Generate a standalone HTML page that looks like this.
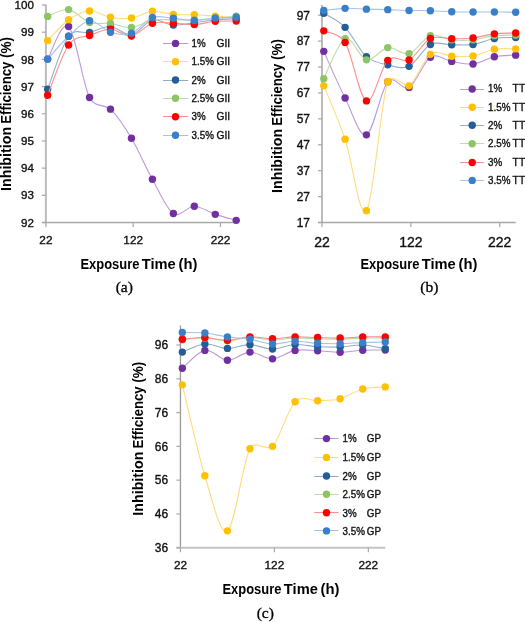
<!DOCTYPE html>
<html><head><meta charset="utf-8"><style>
html,body{margin:0;padding:0;background:#fff;}
body{width:525px;height:622px;overflow:hidden;}
svg{display:block;will-change:transform;}
text{font-family:"Liberation Sans",sans-serif;fill:#000;}
.tk{fill:#111;stroke:#111;stroke-width:0.35px;}
.lg{font-size:10px;fill:#111;stroke:#111;stroke-width:0.35px;}
.ttl{font-size:14px;font-weight:bold;}
.cap{font-family:"Liberation Serif",serif;font-size:15.6px;stroke:#000;stroke-width:0.3px;}
</style></head><body>
<svg width="525" height="622" viewBox="0 0 525 622">
<rect width="525" height="622" fill="#fff"/>
<rect x="44.90" y="4.50" width="2.00" height="218.02" fill="#bcbcbc"/>
<rect x="41.90" y="221.77" width="194.31" height="1.50" fill="#a8a8a8"/>
<rect x="41.90" y="4.40" width="4" height="1.2" fill="#a8a8a8"/>
<text x="33.90" y="9.15" class="tk" style="font-size:11.6px" text-anchor="end">100</text>
<rect x="41.90" y="31.59" width="4" height="1.2" fill="#a8a8a8"/>
<text x="33.90" y="36.34" class="tk" style="font-size:11.6px" text-anchor="end">99</text>
<rect x="41.90" y="58.78" width="4" height="1.2" fill="#a8a8a8"/>
<text x="33.90" y="63.53" class="tk" style="font-size:11.6px" text-anchor="end">98</text>
<rect x="41.90" y="85.97" width="4" height="1.2" fill="#a8a8a8"/>
<text x="33.90" y="90.72" class="tk" style="font-size:11.6px" text-anchor="end">97</text>
<rect x="41.90" y="113.16" width="4" height="1.2" fill="#a8a8a8"/>
<text x="33.90" y="117.91" class="tk" style="font-size:11.6px" text-anchor="end">96</text>
<rect x="41.90" y="140.35" width="4" height="1.2" fill="#a8a8a8"/>
<text x="33.90" y="145.10" class="tk" style="font-size:11.6px" text-anchor="end">95</text>
<rect x="41.90" y="167.54" width="4" height="1.2" fill="#a8a8a8"/>
<text x="33.90" y="172.29" class="tk" style="font-size:11.6px" text-anchor="end">94</text>
<rect x="41.90" y="194.73" width="4" height="1.2" fill="#a8a8a8"/>
<text x="33.90" y="199.48" class="tk" style="font-size:11.6px" text-anchor="end">93</text>
<rect x="41.90" y="221.92" width="4" height="1.2" fill="#a8a8a8"/>
<text x="33.90" y="226.67" class="tk" style="font-size:11.6px" text-anchor="end">92</text>
<rect x="45.30" y="222.52" width="1.2" height="4.5" fill="#a8a8a8"/>
<text x="45.90" y="244.00" class="tk" style="font-size:11.8px" text-anchor="middle">22</text>
<rect x="132.60" y="222.52" width="1.2" height="4.5" fill="#a8a8a8"/>
<text x="133.20" y="244.00" class="tk" style="font-size:11.8px" text-anchor="middle">122</text>
<rect x="219.90" y="222.52" width="1.2" height="4.5" fill="#a8a8a8"/>
<text x="220.50" y="244.00" class="tk" style="font-size:11.8px" text-anchor="middle">222</text>
<path d="M47.65,59.11 C51.14,53.67 61.61,20.09 68.60,26.48 C75.58,32.87 82.57,83.67 89.55,97.45 C94.97,108.15 105.08,103.86 110.50,109.14 C117.49,115.94 124.47,126.54 131.45,138.23 C138.44,149.92 145.42,166.74 152.41,179.29 C159.39,191.84 166.37,209.06 173.36,213.55 C180.34,218.03 187.33,206.07 194.31,206.21 C201.29,206.34 208.28,212.01 215.26,214.36 C222.25,216.72 232.72,219.35 236.21,220.34" fill="none" stroke="#BC9ADA" stroke-width="1.1"/>
<circle cx="47.65" cy="59.11" r="3.70" fill="#7030A0"/>
<circle cx="68.60" cy="26.48" r="3.70" fill="#7030A0"/>
<circle cx="89.55" cy="97.45" r="3.70" fill="#7030A0"/>
<circle cx="110.50" cy="109.14" r="3.70" fill="#7030A0"/>
<circle cx="131.45" cy="138.23" r="3.70" fill="#7030A0"/>
<circle cx="152.41" cy="179.29" r="3.70" fill="#7030A0"/>
<circle cx="173.36" cy="213.55" r="3.70" fill="#7030A0"/>
<circle cx="194.31" cy="206.21" r="3.70" fill="#7030A0"/>
<circle cx="215.26" cy="214.36" r="3.70" fill="#7030A0"/>
<circle cx="236.21" cy="220.34" r="3.70" fill="#7030A0"/>
<path d="M47.65,40.62 C51.14,37.13 61.61,24.62 68.60,19.68 C75.58,14.74 82.57,11.39 89.55,10.98 C96.53,10.57 103.52,16.06 110.50,17.24 C117.49,18.41 124.47,19.05 131.45,18.05 C138.44,17.05 145.42,11.84 152.41,11.25 C159.39,10.66 166.37,13.93 173.36,14.52 C180.34,15.11 187.33,14.52 194.31,14.79 C201.29,15.06 208.28,15.74 215.26,16.15 C222.25,16.56 232.72,17.05 236.21,17.24" fill="none" stroke="#FFDC80" stroke-width="1.1"/>
<circle cx="47.65" cy="40.62" r="3.70" fill="#FFC000"/>
<circle cx="68.60" cy="19.68" r="3.70" fill="#FFC000"/>
<circle cx="89.55" cy="10.98" r="3.70" fill="#FFC000"/>
<circle cx="110.50" cy="17.24" r="3.70" fill="#FFC000"/>
<circle cx="131.45" cy="18.05" r="3.70" fill="#FFC000"/>
<circle cx="152.41" cy="11.25" r="3.70" fill="#FFC000"/>
<circle cx="173.36" cy="14.52" r="3.70" fill="#FFC000"/>
<circle cx="194.31" cy="14.79" r="3.70" fill="#FFC000"/>
<circle cx="215.26" cy="16.15" r="3.70" fill="#FFC000"/>
<circle cx="236.21" cy="17.24" r="3.70" fill="#FFC000"/>
<path d="M47.65,89.29 C51.14,80.45 61.61,45.74 68.60,36.27 C74.92,27.70 83.23,33.94 89.55,32.46 C96.53,30.83 103.52,26.07 110.50,26.48 C117.49,26.89 124.47,36.00 131.45,34.91 C138.44,33.82 145.42,21.59 152.41,19.95 C159.39,18.32 166.37,24.67 173.36,25.12 C180.34,25.57 187.33,23.53 194.31,22.67 C201.29,21.81 208.28,20.63 215.26,19.95 C222.25,19.27 232.72,18.82 236.21,18.59" fill="none" stroke="#90AECC" stroke-width="1.1"/>
<circle cx="47.65" cy="89.29" r="3.70" fill="#245E94"/>
<circle cx="68.60" cy="36.27" r="3.70" fill="#245E94"/>
<circle cx="89.55" cy="32.46" r="3.70" fill="#245E94"/>
<circle cx="110.50" cy="26.48" r="3.70" fill="#245E94"/>
<circle cx="131.45" cy="34.91" r="3.70" fill="#245E94"/>
<circle cx="152.41" cy="19.95" r="3.70" fill="#245E94"/>
<circle cx="173.36" cy="25.12" r="3.70" fill="#245E94"/>
<circle cx="194.31" cy="22.67" r="3.70" fill="#245E94"/>
<circle cx="215.26" cy="19.95" r="3.70" fill="#245E94"/>
<circle cx="236.21" cy="18.59" r="3.70" fill="#245E94"/>
<path d="M47.65,16.42 C51.14,15.29 61.61,8.63 68.60,9.62 C75.58,10.62 82.57,20.09 89.55,22.40 C96.53,24.71 103.52,22.63 110.50,23.49 C117.49,24.35 124.47,28.16 131.45,27.57 C138.44,26.98 145.42,21.22 152.41,19.95 C159.39,18.69 166.37,19.95 173.36,19.95 C180.34,19.95 187.33,20.18 194.31,19.95 C201.29,19.73 208.28,19.23 215.26,18.59 C222.25,17.96 232.72,16.56 236.21,16.15" fill="none" stroke="#BCDEA6" stroke-width="1.1"/>
<circle cx="47.65" cy="16.42" r="3.70" fill="#8CC466"/>
<circle cx="68.60" cy="9.62" r="3.70" fill="#8CC466"/>
<circle cx="89.55" cy="22.40" r="3.70" fill="#8CC466"/>
<circle cx="110.50" cy="23.49" r="3.70" fill="#8CC466"/>
<circle cx="131.45" cy="27.57" r="3.70" fill="#8CC466"/>
<circle cx="152.41" cy="19.95" r="3.70" fill="#8CC466"/>
<circle cx="173.36" cy="19.95" r="3.70" fill="#8CC466"/>
<circle cx="194.31" cy="19.95" r="3.70" fill="#8CC466"/>
<circle cx="215.26" cy="18.59" r="3.70" fill="#8CC466"/>
<circle cx="236.21" cy="16.15" r="3.70" fill="#8CC466"/>
<path d="M47.65,95.27 C51.14,86.89 61.61,54.94 68.60,44.97 C75.20,35.55 82.95,37.94 89.55,35.45 C96.53,32.82 103.52,29.11 110.50,29.20 C117.49,29.29 124.47,36.99 131.45,36.00 C138.44,35.00 145.42,25.35 152.41,23.22 C159.39,21.09 166.37,22.99 173.36,23.22 C180.34,23.44 187.33,24.89 194.31,24.58 C201.29,24.26 208.28,21.90 215.26,21.31 C222.25,20.72 232.72,21.09 236.21,21.04" fill="none" stroke="#FF8C8C" stroke-width="1.1"/>
<circle cx="47.65" cy="95.27" r="3.70" fill="#FF0000"/>
<circle cx="68.60" cy="44.97" r="3.70" fill="#FF0000"/>
<circle cx="89.55" cy="35.45" r="3.70" fill="#FF0000"/>
<circle cx="110.50" cy="29.20" r="3.70" fill="#FF0000"/>
<circle cx="131.45" cy="36.00" r="3.70" fill="#FF0000"/>
<circle cx="152.41" cy="23.22" r="3.70" fill="#FF0000"/>
<circle cx="173.36" cy="23.22" r="3.70" fill="#FF0000"/>
<circle cx="194.31" cy="24.58" r="3.70" fill="#FF0000"/>
<circle cx="215.26" cy="21.31" r="3.70" fill="#FF0000"/>
<circle cx="236.21" cy="21.04" r="3.70" fill="#FF0000"/>
<path d="M47.65,59.11 C51.14,55.30 61.61,42.66 68.60,36.27 C75.58,29.88 82.57,21.45 89.55,20.77 C96.53,20.09 103.52,30.11 110.50,32.19 C117.49,34.27 124.47,35.72 131.45,33.28 C138.44,30.83 145.42,20.00 152.41,17.51 C159.39,15.01 166.37,17.82 173.36,18.32 C180.34,18.82 187.33,20.54 194.31,20.50 C201.29,20.45 208.28,18.60 215.26,18.05 C222.25,17.51 232.72,17.37 236.21,17.24" fill="none" stroke="#A2C4E8" stroke-width="1.1"/>
<circle cx="47.65" cy="59.11" r="3.70" fill="#3A80C8"/>
<circle cx="68.60" cy="36.27" r="3.70" fill="#3A80C8"/>
<circle cx="89.55" cy="20.77" r="3.70" fill="#3A80C8"/>
<circle cx="110.50" cy="32.19" r="3.70" fill="#3A80C8"/>
<circle cx="131.45" cy="33.28" r="3.70" fill="#3A80C8"/>
<circle cx="152.41" cy="17.51" r="3.70" fill="#3A80C8"/>
<circle cx="173.36" cy="18.32" r="3.70" fill="#3A80C8"/>
<circle cx="194.31" cy="20.50" r="3.70" fill="#3A80C8"/>
<circle cx="215.26" cy="18.05" r="3.70" fill="#3A80C8"/>
<circle cx="236.21" cy="17.24" r="3.70" fill="#3A80C8"/>
<line x1="163.00" y1="43.50" x2="188.20" y2="43.50" stroke="#BC9ADA" stroke-width="1.0"/>
<circle cx="175.50" cy="43.40" r="3.70" fill="#7030A0"/>
<text x="191.50" y="46.90" class="lg" textLength="14.1" lengthAdjust="spacingAndGlyphs">1%</text>
<text x="216.60" y="46.90" class="lg" textLength="13.6" lengthAdjust="spacingAndGlyphs">GII</text>
<line x1="163.00" y1="61.50" x2="188.20" y2="61.50" stroke="#FFDC80" stroke-width="1.0"/>
<circle cx="175.50" cy="61.75" r="3.70" fill="#FFC000"/>
<text x="191.50" y="65.25" class="lg" textLength="22.4" lengthAdjust="spacingAndGlyphs">1.5%</text>
<text x="216.60" y="65.25" class="lg" textLength="13.6" lengthAdjust="spacingAndGlyphs">GII</text>
<line x1="163.00" y1="80.50" x2="188.20" y2="80.50" stroke="#90AECC" stroke-width="1.0"/>
<circle cx="175.50" cy="80.00" r="3.70" fill="#245E94"/>
<text x="191.50" y="83.50" class="lg" textLength="14.1" lengthAdjust="spacingAndGlyphs">2%</text>
<text x="216.60" y="83.50" class="lg" textLength="13.6" lengthAdjust="spacingAndGlyphs">GII</text>
<line x1="163.00" y1="98.50" x2="188.20" y2="98.50" stroke="#BCDEA6" stroke-width="1.0"/>
<circle cx="175.50" cy="98.25" r="3.70" fill="#8CC466"/>
<text x="191.50" y="101.75" class="lg" textLength="22.4" lengthAdjust="spacingAndGlyphs">2.5%</text>
<text x="216.60" y="101.75" class="lg" textLength="13.6" lengthAdjust="spacingAndGlyphs">GII</text>
<line x1="163.00" y1="116.50" x2="188.20" y2="116.50" stroke="#FF8C8C" stroke-width="1.0"/>
<circle cx="175.50" cy="116.75" r="3.70" fill="#FF0000"/>
<text x="191.50" y="120.25" class="lg" textLength="14.1" lengthAdjust="spacingAndGlyphs">3%</text>
<text x="216.60" y="120.25" class="lg" textLength="13.6" lengthAdjust="spacingAndGlyphs">GII</text>
<line x1="163.00" y1="135.50" x2="188.20" y2="135.50" stroke="#A2C4E8" stroke-width="1.0"/>
<circle cx="175.50" cy="135.25" r="3.70" fill="#3A80C8"/>
<text x="191.50" y="138.75" class="lg" textLength="22.4" lengthAdjust="spacingAndGlyphs">3.5%</text>
<text x="216.60" y="138.75" class="lg" textLength="13.6" lengthAdjust="spacingAndGlyphs">GII</text>
<g class="ttl" transform="translate(10.90,190.00) rotate(-90)"><text x="-0.96" y="0" textLength="64.09" lengthAdjust="spacingAndGlyphs">Inhibition</text><text x="66.22" y="0" textLength="62.16" lengthAdjust="spacingAndGlyphs">Efficiency</text><text x="132.02" y="0" textLength="21.05" lengthAdjust="spacingAndGlyphs">(%)</text></g>
<g class="ttl" transform="translate(81.30,268.90)"><text x="-0.87" y="0" textLength="58.96" lengthAdjust="spacingAndGlyphs">Exposure</text><text x="60.53" y="0" textLength="33.96" lengthAdjust="spacingAndGlyphs">Time</text><text x="97.26" y="0" textLength="18.89" lengthAdjust="spacingAndGlyphs">(h)</text></g>
<text class="cap" text-anchor="middle" x="124.30" y="291.80">(a)</text>
<rect x="321.00" y="5.00" width="2.00" height="217.50" fill="#bcbcbc"/>
<rect x="318.00" y="221.75" width="197.69" height="1.50" fill="#a8a8a8"/>
<rect x="318.00" y="14.60" width="4" height="1.2" fill="#a8a8a8"/>
<text x="310.00" y="19.50" class="tk" style="font-size:12px" text-anchor="end">97</text>
<rect x="318.00" y="40.51" width="4" height="1.2" fill="#a8a8a8"/>
<text x="310.00" y="45.41" class="tk" style="font-size:12px" text-anchor="end">87</text>
<rect x="318.00" y="66.43" width="4" height="1.2" fill="#a8a8a8"/>
<text x="310.00" y="71.32" class="tk" style="font-size:12px" text-anchor="end">77</text>
<rect x="318.00" y="92.34" width="4" height="1.2" fill="#a8a8a8"/>
<text x="310.00" y="97.24" class="tk" style="font-size:12px" text-anchor="end">67</text>
<rect x="318.00" y="118.25" width="4" height="1.2" fill="#a8a8a8"/>
<text x="310.00" y="123.15" class="tk" style="font-size:12px" text-anchor="end">57</text>
<rect x="318.00" y="144.16" width="4" height="1.2" fill="#a8a8a8"/>
<text x="310.00" y="149.06" class="tk" style="font-size:12px" text-anchor="end">47</text>
<rect x="318.00" y="170.08" width="4" height="1.2" fill="#a8a8a8"/>
<text x="310.00" y="174.97" class="tk" style="font-size:12px" text-anchor="end">37</text>
<rect x="318.00" y="195.99" width="4" height="1.2" fill="#a8a8a8"/>
<text x="310.00" y="200.89" class="tk" style="font-size:12px" text-anchor="end">27</text>
<rect x="318.00" y="221.90" width="4" height="1.2" fill="#a8a8a8"/>
<text x="310.00" y="226.80" class="tk" style="font-size:12px" text-anchor="end">17</text>
<rect x="321.40" y="222.50" width="1.2" height="4.5" fill="#a8a8a8"/>
<text x="322.00" y="247.40" class="tk" style="font-size:14px" text-anchor="middle">22</text>
<rect x="410.25" y="222.50" width="1.2" height="4.5" fill="#a8a8a8"/>
<text x="410.85" y="247.40" class="tk" style="font-size:14px" text-anchor="middle">122</text>
<rect x="499.10" y="222.50" width="1.2" height="4.5" fill="#a8a8a8"/>
<text x="499.70" y="247.40" class="tk" style="font-size:14px" text-anchor="middle">222</text>
<path d="M323.78,51.35 C327.33,59.14 337.99,84.14 345.10,98.05 C352.21,111.96 359.32,137.55 366.43,134.84 C373.53,132.13 380.64,89.71 387.75,81.80 C394.86,73.89 401.96,91.49 409.07,87.39 C416.18,83.30 423.29,61.56 430.40,57.23 C437.50,52.90 444.61,60.26 451.72,61.39 C458.83,62.52 465.94,64.77 473.04,63.99 C480.15,63.21 487.26,58.18 494.37,56.71 C501.48,55.24 512.14,55.41 515.69,55.15" fill="none" stroke="#BC9ADA" stroke-width="1.1"/>
<circle cx="323.78" cy="51.35" r="3.70" fill="#7030A0"/>
<circle cx="345.10" cy="98.05" r="3.70" fill="#7030A0"/>
<circle cx="366.43" cy="134.84" r="3.70" fill="#7030A0"/>
<circle cx="387.75" cy="81.80" r="3.70" fill="#7030A0"/>
<circle cx="409.07" cy="87.39" r="3.70" fill="#7030A0"/>
<circle cx="430.40" cy="57.23" r="3.70" fill="#7030A0"/>
<circle cx="451.72" cy="61.39" r="3.70" fill="#7030A0"/>
<circle cx="473.04" cy="63.99" r="3.70" fill="#7030A0"/>
<circle cx="494.37" cy="56.71" r="3.70" fill="#7030A0"/>
<circle cx="515.69" cy="55.15" r="3.70" fill="#7030A0"/>
<path d="M323.78,85.83 C327.33,94.71 337.99,118.33 345.10,139.13 C352.21,159.93 359.32,220.21 366.43,210.63 C373.53,201.05 380.64,102.47 387.75,81.67 C391.26,71.39 405.56,88.08 409.07,85.83 C416.18,81.28 423.29,59.31 430.40,54.37 C437.50,49.43 444.61,55.93 451.72,56.19 C458.83,56.45 465.94,57.10 473.04,55.93 C480.15,54.76 487.26,50.34 494.37,49.17 C501.48,48.00 512.14,48.95 515.69,48.91" fill="none" stroke="#FFDC80" stroke-width="1.1"/>
<circle cx="323.78" cy="85.83" r="3.70" fill="#FFC000"/>
<circle cx="345.10" cy="139.13" r="3.70" fill="#FFC000"/>
<circle cx="366.43" cy="210.63" r="3.70" fill="#FFC000"/>
<circle cx="387.75" cy="81.67" r="3.70" fill="#FFC000"/>
<circle cx="409.07" cy="85.83" r="3.70" fill="#FFC000"/>
<circle cx="430.40" cy="54.37" r="3.70" fill="#FFC000"/>
<circle cx="451.72" cy="56.19" r="3.70" fill="#FFC000"/>
<circle cx="473.04" cy="55.93" r="3.70" fill="#FFC000"/>
<circle cx="494.37" cy="49.17" r="3.70" fill="#FFC000"/>
<circle cx="515.69" cy="48.91" r="3.70" fill="#FFC000"/>
<path d="M323.78,13.29 C327.33,15.63 337.99,20.09 345.10,27.33 C352.21,34.57 359.32,50.47 366.43,56.71 C373.53,62.95 380.64,63.17 387.75,64.77 C394.86,66.37 401.96,69.71 409.07,66.33 C416.18,62.95 423.29,48.09 430.40,44.49 C437.50,40.89 444.61,44.75 451.72,44.75 C458.83,44.75 465.94,45.53 473.04,44.49 C480.15,43.45 487.26,39.68 494.37,38.51 C501.48,37.34 512.14,37.64 515.69,37.47" fill="none" stroke="#90AECC" stroke-width="1.1"/>
<circle cx="323.78" cy="13.29" r="3.70" fill="#245E94"/>
<circle cx="345.10" cy="27.33" r="3.70" fill="#245E94"/>
<circle cx="366.43" cy="56.71" r="3.70" fill="#245E94"/>
<circle cx="387.75" cy="64.77" r="3.70" fill="#245E94"/>
<circle cx="409.07" cy="66.33" r="3.70" fill="#245E94"/>
<circle cx="430.40" cy="44.49" r="3.70" fill="#245E94"/>
<circle cx="451.72" cy="44.75" r="3.70" fill="#245E94"/>
<circle cx="473.04" cy="44.49" r="3.70" fill="#245E94"/>
<circle cx="494.37" cy="38.51" r="3.70" fill="#245E94"/>
<circle cx="515.69" cy="37.47" r="3.70" fill="#245E94"/>
<path d="M323.78,78.81 C327.33,72.11 337.99,41.80 345.10,38.64 C352.21,35.48 359.32,58.34 366.43,59.83 C373.53,61.32 380.64,48.65 387.75,47.61 C394.86,46.57 401.96,55.58 409.07,53.59 C416.18,51.60 423.29,37.95 430.40,35.65 C437.50,33.35 444.61,39.12 451.72,39.81 C458.83,40.50 465.94,40.50 473.04,39.81 C480.15,39.12 487.26,36.43 494.37,35.65 C501.48,34.87 512.14,35.22 515.69,35.13" fill="none" stroke="#BCDEA6" stroke-width="1.1"/>
<circle cx="323.78" cy="78.81" r="3.70" fill="#8CC466"/>
<circle cx="345.10" cy="38.64" r="3.70" fill="#8CC466"/>
<circle cx="366.43" cy="59.83" r="3.70" fill="#8CC466"/>
<circle cx="387.75" cy="47.61" r="3.70" fill="#8CC466"/>
<circle cx="409.07" cy="53.59" r="3.70" fill="#8CC466"/>
<circle cx="430.40" cy="35.65" r="3.70" fill="#8CC466"/>
<circle cx="451.72" cy="39.81" r="3.70" fill="#8CC466"/>
<circle cx="473.04" cy="39.81" r="3.70" fill="#8CC466"/>
<circle cx="494.37" cy="35.65" r="3.70" fill="#8CC466"/>
<circle cx="515.69" cy="35.13" r="3.70" fill="#8CC466"/>
<path d="M323.78,30.84 C326.93,32.55 338.79,32.05 345.10,42.41 C352.21,54.09 359.32,97.92 366.43,100.91 C373.53,103.90 380.64,67.17 387.75,60.35 C394.86,53.52 401.96,63.60 409.07,59.96 C416.18,56.32 423.29,42.04 430.40,38.51 C437.50,34.98 444.61,38.86 451.72,38.77 C458.83,38.68 465.94,38.81 473.04,37.99 C480.15,37.17 487.26,34.65 494.37,33.83 C501.48,33.01 512.14,33.18 515.69,33.05" fill="none" stroke="#FF8C8C" stroke-width="1.1"/>
<circle cx="323.78" cy="30.84" r="3.70" fill="#FF0000"/>
<circle cx="345.10" cy="42.41" r="3.70" fill="#FF0000"/>
<circle cx="366.43" cy="100.91" r="3.70" fill="#FF0000"/>
<circle cx="387.75" cy="60.35" r="3.70" fill="#FF0000"/>
<circle cx="409.07" cy="59.96" r="3.70" fill="#FF0000"/>
<circle cx="430.40" cy="38.51" r="3.70" fill="#FF0000"/>
<circle cx="451.72" cy="38.77" r="3.70" fill="#FF0000"/>
<circle cx="473.04" cy="37.99" r="3.70" fill="#FF0000"/>
<circle cx="494.37" cy="33.83" r="3.70" fill="#FF0000"/>
<circle cx="515.69" cy="33.05" r="3.70" fill="#FF0000"/>
<path d="M323.78,10.43 C327.33,10.08 337.99,8.57 345.10,8.35 C352.21,8.13 359.32,8.91 366.43,9.13 C373.53,9.35 380.64,9.43 387.75,9.65 C394.86,9.87 401.96,10.26 409.07,10.43 C416.18,10.60 423.29,10.47 430.40,10.69 C437.50,10.91 444.61,11.51 451.72,11.73 C458.83,11.95 465.94,11.95 473.04,11.99 C480.15,12.03 487.26,11.95 494.37,11.99 C501.48,12.03 512.14,12.21 515.69,12.25" fill="none" stroke="#A2C4E8" stroke-width="1.1"/>
<circle cx="323.78" cy="10.43" r="3.70" fill="#3A80C8"/>
<circle cx="345.10" cy="8.35" r="3.70" fill="#3A80C8"/>
<circle cx="366.43" cy="9.13" r="3.70" fill="#3A80C8"/>
<circle cx="387.75" cy="9.65" r="3.70" fill="#3A80C8"/>
<circle cx="409.07" cy="10.43" r="3.70" fill="#3A80C8"/>
<circle cx="430.40" cy="10.69" r="3.70" fill="#3A80C8"/>
<circle cx="451.72" cy="11.73" r="3.70" fill="#3A80C8"/>
<circle cx="473.04" cy="11.99" r="3.70" fill="#3A80C8"/>
<circle cx="494.37" cy="11.99" r="3.70" fill="#3A80C8"/>
<circle cx="515.69" cy="12.25" r="3.70" fill="#3A80C8"/>
<line x1="460.10" y1="89.50" x2="484.00" y2="89.50" stroke="#BC9ADA" stroke-width="1.0"/>
<circle cx="472.20" cy="89.00" r="3.70" fill="#7030A0"/>
<text x="488.00" y="92.30" class="lg" textLength="14.1" lengthAdjust="spacingAndGlyphs">1%</text>
<text x="512.60" y="92.30" class="lg" textLength="12.6" lengthAdjust="spacingAndGlyphs">TT</text>
<line x1="460.10" y1="107.50" x2="484.00" y2="107.50" stroke="#FFDC80" stroke-width="1.0"/>
<circle cx="472.20" cy="107.20" r="3.70" fill="#FFC000"/>
<text x="488.00" y="110.50" class="lg" textLength="22.4" lengthAdjust="spacingAndGlyphs">1.5%</text>
<text x="512.60" y="110.50" class="lg" textLength="12.6" lengthAdjust="spacingAndGlyphs">TT</text>
<line x1="460.10" y1="125.50" x2="484.00" y2="125.50" stroke="#90AECC" stroke-width="1.0"/>
<circle cx="472.20" cy="125.30" r="3.70" fill="#245E94"/>
<text x="488.00" y="128.60" class="lg" textLength="14.1" lengthAdjust="spacingAndGlyphs">2%</text>
<text x="512.60" y="128.60" class="lg" textLength="12.6" lengthAdjust="spacingAndGlyphs">TT</text>
<line x1="460.10" y1="143.50" x2="484.00" y2="143.50" stroke="#BCDEA6" stroke-width="1.0"/>
<circle cx="472.20" cy="143.70" r="3.70" fill="#8CC466"/>
<text x="488.00" y="147.00" class="lg" textLength="22.4" lengthAdjust="spacingAndGlyphs">2.5%</text>
<text x="512.60" y="147.00" class="lg" textLength="12.6" lengthAdjust="spacingAndGlyphs">TT</text>
<line x1="460.10" y1="162.50" x2="484.00" y2="162.50" stroke="#FF8C8C" stroke-width="1.0"/>
<circle cx="472.20" cy="162.50" r="3.70" fill="#FF0000"/>
<text x="488.00" y="165.80" class="lg" textLength="14.1" lengthAdjust="spacingAndGlyphs">3%</text>
<text x="512.60" y="165.80" class="lg" textLength="12.6" lengthAdjust="spacingAndGlyphs">TT</text>
<line x1="460.10" y1="180.50" x2="484.00" y2="180.50" stroke="#A2C4E8" stroke-width="1.0"/>
<circle cx="472.20" cy="180.40" r="3.70" fill="#3A80C8"/>
<text x="488.00" y="183.70" class="lg" textLength="22.4" lengthAdjust="spacingAndGlyphs">3.5%</text>
<text x="512.60" y="183.70" class="lg" textLength="12.6" lengthAdjust="spacingAndGlyphs">TT</text>
<g class="ttl" transform="translate(282.20,192.00) rotate(-90)"><text x="-0.96" y="0" textLength="64.09" lengthAdjust="spacingAndGlyphs">Inhibition</text><text x="66.22" y="0" textLength="62.16" lengthAdjust="spacingAndGlyphs">Efficiency</text><text x="132.02" y="0" textLength="21.05" lengthAdjust="spacingAndGlyphs">(%)</text></g>
<g class="ttl" transform="translate(361.30,268.90)"><text x="-0.87" y="0" textLength="58.96" lengthAdjust="spacingAndGlyphs">Exposure</text><text x="60.53" y="0" textLength="33.96" lengthAdjust="spacingAndGlyphs">Time</text><text x="97.26" y="0" textLength="18.89" lengthAdjust="spacingAndGlyphs">(h)</text></g>
<text class="cap" text-anchor="middle" x="429.30" y="291.90">(b)</text>
<rect x="179.80" y="325.50" width="1.30" height="222.24" fill="#9a9a9a"/>
<rect x="176.45" y="546.74" width="208.81" height="2.00" fill="#c4c4c4"/>
<rect x="176.45" y="344.40" width="4" height="1.2" fill="#a8a8a8"/>
<text x="168.15" y="349.30" class="tk" style="font-size:12px" text-anchor="end">96</text>
<rect x="176.45" y="378.19" width="4" height="1.2" fill="#a8a8a8"/>
<text x="168.15" y="383.09" class="tk" style="font-size:12px" text-anchor="end">86</text>
<rect x="176.45" y="411.98" width="4" height="1.2" fill="#a8a8a8"/>
<text x="168.15" y="416.88" class="tk" style="font-size:12px" text-anchor="end">76</text>
<rect x="176.45" y="445.77" width="4" height="1.2" fill="#a8a8a8"/>
<text x="168.15" y="450.67" class="tk" style="font-size:12px" text-anchor="end">66</text>
<rect x="176.45" y="479.56" width="4" height="1.2" fill="#a8a8a8"/>
<text x="168.15" y="484.46" class="tk" style="font-size:12px" text-anchor="end">56</text>
<rect x="176.45" y="513.35" width="4" height="1.2" fill="#a8a8a8"/>
<text x="168.15" y="518.25" class="tk" style="font-size:12px" text-anchor="end">46</text>
<rect x="176.45" y="547.14" width="4" height="1.2" fill="#a8a8a8"/>
<text x="168.15" y="552.04" class="tk" style="font-size:12px" text-anchor="end">36</text>
<rect x="179.85" y="547.74" width="1.2" height="4.5" fill="#a8a8a8"/>
<text x="180.45" y="568.80" class="tk" style="font-size:11.8px" text-anchor="middle">22</text>
<rect x="273.80" y="547.74" width="1.2" height="4.5" fill="#a8a8a8"/>
<text x="274.40" y="568.80" class="tk" style="font-size:11.8px" text-anchor="middle">122</text>
<rect x="367.75" y="547.74" width="1.2" height="4.5" fill="#a8a8a8"/>
<text x="368.35" y="568.80" class="tk" style="font-size:11.8px" text-anchor="middle">222</text>
<path d="M182.33,368.32 C186.09,365.33 197.36,351.76 204.88,350.41 C212.39,349.05 219.91,359.92 227.42,360.21 C234.94,360.49 242.46,352.32 249.97,352.10 C257.49,351.87 265.00,359.14 272.52,358.85 C280.04,358.57 287.55,351.76 295.07,350.41 C302.58,349.05 310.10,350.43 317.62,350.74 C325.13,351.05 332.65,352.35 340.16,352.26 C347.68,352.18 355.20,350.60 362.71,350.24 C370.23,349.87 381.50,350.10 385.26,350.07" fill="none" stroke="#BC9ADA" stroke-width="1.1"/>
<circle cx="182.33" cy="368.32" r="3.70" fill="#7030A0"/>
<circle cx="204.88" cy="350.41" r="3.70" fill="#7030A0"/>
<circle cx="227.42" cy="360.21" r="3.70" fill="#7030A0"/>
<circle cx="249.97" cy="352.10" r="3.70" fill="#7030A0"/>
<circle cx="272.52" cy="358.85" r="3.70" fill="#7030A0"/>
<circle cx="295.07" cy="350.41" r="3.70" fill="#7030A0"/>
<circle cx="317.62" cy="350.74" r="3.70" fill="#7030A0"/>
<circle cx="340.16" cy="352.26" r="3.70" fill="#7030A0"/>
<circle cx="362.71" cy="350.24" r="3.70" fill="#7030A0"/>
<circle cx="385.26" cy="350.07" r="3.70" fill="#7030A0"/>
<path d="M182.33,384.87 C186.09,400.02 197.36,451.44 204.88,475.77 C212.39,500.10 219.91,535.35 227.42,530.85 C234.94,526.34 242.46,462.81 249.97,448.74 C255.31,438.74 267.18,451.93 272.52,446.37 C280.04,438.54 287.55,409.37 295.07,401.77 C302.58,394.16 310.10,401.26 317.62,400.75 C325.13,400.25 332.65,400.70 340.16,398.73 C347.68,396.76 355.20,390.90 362.71,388.93 C370.23,386.96 381.50,387.24 385.26,386.90" fill="none" stroke="#FFDC80" stroke-width="1.1"/>
<circle cx="182.33" cy="384.87" r="3.70" fill="#FFC000"/>
<circle cx="204.88" cy="475.77" r="3.70" fill="#FFC000"/>
<circle cx="227.42" cy="530.85" r="3.70" fill="#FFC000"/>
<circle cx="249.97" cy="448.74" r="3.70" fill="#FFC000"/>
<circle cx="272.52" cy="446.37" r="3.70" fill="#FFC000"/>
<circle cx="295.07" cy="401.77" r="3.70" fill="#FFC000"/>
<circle cx="317.62" cy="400.75" r="3.70" fill="#FFC000"/>
<circle cx="340.16" cy="398.73" r="3.70" fill="#FFC000"/>
<circle cx="362.71" cy="388.93" r="3.70" fill="#FFC000"/>
<circle cx="385.26" cy="386.90" r="3.70" fill="#FFC000"/>
<path d="M182.33,352.10 C186.09,350.74 197.36,344.61 204.88,343.99 C212.39,343.37 219.91,348.27 227.42,348.38 C234.94,348.49 242.46,344.55 249.97,344.66 C257.49,344.77 265.00,349.08 272.52,349.05 C280.04,349.03 287.55,344.89 295.07,344.49 C302.58,344.10 310.10,346.27 317.62,346.69 C325.13,347.11 332.65,347.31 340.16,347.03 C347.68,346.75 355.20,344.72 362.71,345.00 C370.23,345.28 381.50,348.10 385.26,348.72" fill="none" stroke="#90AECC" stroke-width="1.1"/>
<circle cx="182.33" cy="352.10" r="3.70" fill="#245E94"/>
<circle cx="204.88" cy="343.99" r="3.70" fill="#245E94"/>
<circle cx="227.42" cy="348.38" r="3.70" fill="#245E94"/>
<circle cx="249.97" cy="344.66" r="3.70" fill="#245E94"/>
<circle cx="272.52" cy="349.05" r="3.70" fill="#245E94"/>
<circle cx="295.07" cy="344.49" r="3.70" fill="#245E94"/>
<circle cx="317.62" cy="346.69" r="3.70" fill="#245E94"/>
<circle cx="340.16" cy="347.03" r="3.70" fill="#245E94"/>
<circle cx="362.71" cy="345.00" r="3.70" fill="#245E94"/>
<circle cx="385.26" cy="348.72" r="3.70" fill="#245E94"/>
<path d="M182.33,339.76 C186.09,339.48 197.36,337.90 204.88,338.07 C212.39,338.24 219.91,340.89 227.42,340.78 C234.94,340.66 242.46,337.54 249.97,337.40 C257.49,337.26 265.00,339.82 272.52,339.93 C280.04,340.04 287.55,338.27 295.07,338.07 C302.58,337.88 310.10,338.55 317.62,338.75 C325.13,338.95 332.65,339.37 340.16,339.26 C347.68,339.14 355.20,338.27 362.71,338.07 C370.23,337.88 381.50,338.07 385.26,338.07" fill="none" stroke="#BCDEA6" stroke-width="1.1"/>
<circle cx="182.33" cy="339.76" r="3.70" fill="#8CC466"/>
<circle cx="204.88" cy="338.07" r="3.70" fill="#8CC466"/>
<circle cx="227.42" cy="340.78" r="3.70" fill="#8CC466"/>
<circle cx="249.97" cy="337.40" r="3.70" fill="#8CC466"/>
<circle cx="272.52" cy="339.93" r="3.70" fill="#8CC466"/>
<circle cx="295.07" cy="338.07" r="3.70" fill="#8CC466"/>
<circle cx="317.62" cy="338.75" r="3.70" fill="#8CC466"/>
<circle cx="340.16" cy="339.26" r="3.70" fill="#8CC466"/>
<circle cx="362.71" cy="338.07" r="3.70" fill="#8CC466"/>
<circle cx="385.26" cy="338.07" r="3.70" fill="#8CC466"/>
<path d="M182.33,339.26 C186.09,338.97 197.36,337.40 204.88,337.57 C212.39,337.74 219.91,340.38 227.42,340.27 C234.94,340.16 242.46,337.14 249.97,336.89 C257.49,336.64 265.00,338.75 272.52,338.75 C280.04,338.75 287.55,337.09 295.07,336.89 C302.58,336.69 310.10,337.37 317.62,337.57 C325.13,337.76 332.65,338.19 340.16,338.07 C347.68,337.96 355.20,337.09 362.71,336.89 C370.23,336.69 381.50,336.89 385.26,336.89" fill="none" stroke="#FF8C8C" stroke-width="1.1"/>
<circle cx="182.33" cy="339.26" r="3.70" fill="#FF0000"/>
<circle cx="204.88" cy="337.57" r="3.70" fill="#FF0000"/>
<circle cx="227.42" cy="340.27" r="3.70" fill="#FF0000"/>
<circle cx="249.97" cy="336.89" r="3.70" fill="#FF0000"/>
<circle cx="272.52" cy="338.75" r="3.70" fill="#FF0000"/>
<circle cx="295.07" cy="336.89" r="3.70" fill="#FF0000"/>
<circle cx="317.62" cy="337.57" r="3.70" fill="#FF0000"/>
<circle cx="340.16" cy="338.07" r="3.70" fill="#FF0000"/>
<circle cx="362.71" cy="336.89" r="3.70" fill="#FF0000"/>
<circle cx="385.26" cy="336.89" r="3.70" fill="#FF0000"/>
<path d="M182.33,332.50 C186.09,332.58 197.36,332.27 204.88,333.00 C212.39,333.74 219.91,335.85 227.42,336.89 C234.94,337.93 242.46,338.07 249.97,339.26 C257.49,340.44 265.00,343.65 272.52,343.99 C280.04,344.32 287.55,341.40 295.07,341.28 C302.58,341.17 310.10,342.92 317.62,343.31 C325.13,343.70 332.65,343.76 340.16,343.65 C347.68,343.54 355.20,342.92 362.71,342.63 C370.23,342.35 381.50,342.07 385.26,341.96" fill="none" stroke="#A2C4E8" stroke-width="1.1"/>
<circle cx="182.33" cy="332.50" r="3.70" fill="#3A80C8"/>
<circle cx="204.88" cy="333.00" r="3.70" fill="#3A80C8"/>
<circle cx="227.42" cy="336.89" r="3.70" fill="#3A80C8"/>
<circle cx="249.97" cy="339.26" r="3.70" fill="#3A80C8"/>
<circle cx="272.52" cy="343.99" r="3.70" fill="#3A80C8"/>
<circle cx="295.07" cy="341.28" r="3.70" fill="#3A80C8"/>
<circle cx="317.62" cy="343.31" r="3.70" fill="#3A80C8"/>
<circle cx="340.16" cy="343.65" r="3.70" fill="#3A80C8"/>
<circle cx="362.71" cy="342.63" r="3.70" fill="#3A80C8"/>
<circle cx="385.26" cy="341.96" r="3.70" fill="#3A80C8"/>
<line x1="314.25" y1="438.50" x2="338.50" y2="438.50" stroke="#BC9ADA" stroke-width="1.0"/>
<circle cx="326.50" cy="438.60" r="3.70" fill="#7030A0"/>
<text x="342.50" y="442.40" class="lg" textLength="14.1" lengthAdjust="spacingAndGlyphs">1%</text>
<text x="366.80" y="442.40" class="lg" textLength="14.2" lengthAdjust="spacingAndGlyphs">GP</text>
<line x1="314.25" y1="457.50" x2="338.50" y2="457.50" stroke="#FFDC80" stroke-width="1.0"/>
<circle cx="326.50" cy="457.40" r="3.70" fill="#FFC000"/>
<text x="342.50" y="461.20" class="lg" textLength="22.4" lengthAdjust="spacingAndGlyphs">1.5%</text>
<text x="366.80" y="461.20" class="lg" textLength="14.2" lengthAdjust="spacingAndGlyphs">GP</text>
<line x1="314.25" y1="476.50" x2="338.50" y2="476.50" stroke="#90AECC" stroke-width="1.0"/>
<circle cx="326.50" cy="476.00" r="3.70" fill="#245E94"/>
<text x="342.50" y="479.80" class="lg" textLength="14.1" lengthAdjust="spacingAndGlyphs">2%</text>
<text x="366.80" y="479.80" class="lg" textLength="14.2" lengthAdjust="spacingAndGlyphs">GP</text>
<line x1="314.25" y1="494.50" x2="338.50" y2="494.50" stroke="#BCDEA6" stroke-width="1.0"/>
<circle cx="326.50" cy="494.20" r="3.70" fill="#8CC466"/>
<text x="342.50" y="498.00" class="lg" textLength="22.4" lengthAdjust="spacingAndGlyphs">2.5%</text>
<text x="366.80" y="498.00" class="lg" textLength="14.2" lengthAdjust="spacingAndGlyphs">GP</text>
<line x1="314.25" y1="512.50" x2="338.50" y2="512.50" stroke="#FF8C8C" stroke-width="1.0"/>
<circle cx="326.50" cy="512.70" r="3.70" fill="#FF0000"/>
<text x="342.50" y="516.50" class="lg" textLength="14.1" lengthAdjust="spacingAndGlyphs">3%</text>
<text x="366.80" y="516.50" class="lg" textLength="14.2" lengthAdjust="spacingAndGlyphs">GP</text>
<line x1="314.25" y1="530.50" x2="338.50" y2="530.50" stroke="#A2C4E8" stroke-width="1.0"/>
<circle cx="326.50" cy="530.90" r="3.70" fill="#3A80C8"/>
<text x="342.50" y="534.70" class="lg" textLength="22.4" lengthAdjust="spacingAndGlyphs">3.5%</text>
<text x="366.80" y="534.70" class="lg" textLength="14.2" lengthAdjust="spacingAndGlyphs">GP</text>
<g class="ttl" transform="translate(142.70,514.70) rotate(-90)"><text x="-0.96" y="0" textLength="64.09" lengthAdjust="spacingAndGlyphs">Inhibition</text><text x="66.22" y="0" textLength="62.16" lengthAdjust="spacingAndGlyphs">Efficiency</text><text x="132.02" y="0" textLength="21.05" lengthAdjust="spacingAndGlyphs">(%)</text></g>
<g class="ttl" transform="translate(223.35,594.40)"><text x="-0.87" y="0" textLength="58.96" lengthAdjust="spacingAndGlyphs">Exposure</text><text x="60.53" y="0" textLength="33.96" lengthAdjust="spacingAndGlyphs">Time</text><text x="97.26" y="0" textLength="18.89" lengthAdjust="spacingAndGlyphs">(h)</text></g>
<text class="cap" text-anchor="middle" x="265.30" y="618.30">(c)</text>
</svg>
</body></html>
